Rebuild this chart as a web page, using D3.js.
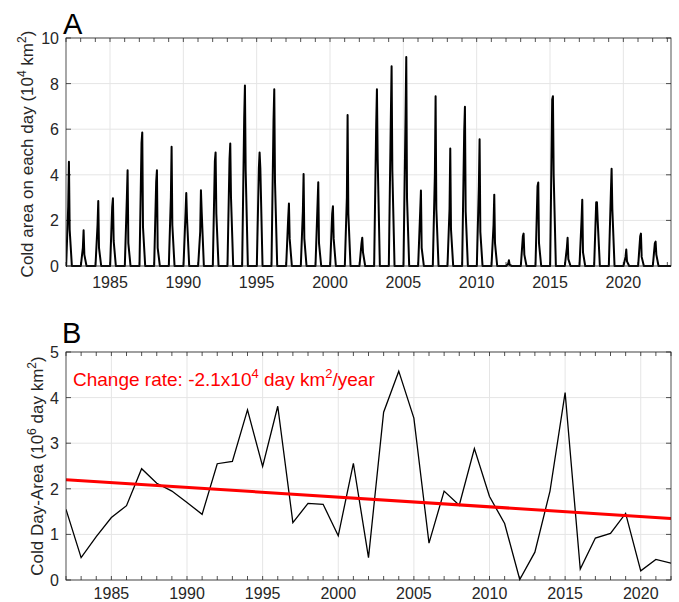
<!DOCTYPE html>
<html><head><meta charset="utf-8">
<script src="https://cdn.jsdelivr.net/npm/d3@7"></script>
<style>
html,body{margin:0;padding:0;background:#fff;}
svg{display:block;font-family:"Liberation Sans",Arial,Helvetica,sans-serif;}
</style></head>
<body>
<svg id="chart" width="679" height="602"></svg>
<script>
// ---------- Panel A data: one cold-season spike per winter ----------
const winterYears = [1982,1983,1984,1985,1986,1987,1988,1989,1990,1991,1992,1993,1994,1995,1996,1997,1998,1999,2000,2001,2002,2003,2004,2005,2006,2007,2008,2009,2010,2011,2012,2013,2014,2015,2016,2017,2018,2019,2020,2021,2022];
const winterPeaks = [4.57,1.57,2.85,2.97,4.2,5.86,4.2,5.23,3.2,3.32,4.98,5.37,7.92,4.98,7.75,2.74,4.04,3.67,2.62,6.62,1.24,7.75,8.76,9.17,3.31,7.45,5.15,6.98,5.56,3.13,0.25,1.42,3.66,7.45,1.24,2.91,2.8,4.26,0.72,1.42,1.07];
const winterRise = [2.6,0.8,1.8,2.6,3.0,5.4,3.7,3.0,2.3,1.5,4.6,4.7,6.5,4.3,6.4,2.1,2.4,2.7,2.3,3.0,1.0,6.2,6.6,6.5,2.4,4.0,2.5,5.9,3.5,1.8,0.1,1.3,3.5,7.3,0.8,2.0,2.8,3.2,0.4,1.3,1.0];
const winterFall = [1.6,0.5,0.8,1.1,1.0,1.7,0.8,1.8,2.1,2.4,2.3,3.0,4.2,4.3,3.7,1.2,1.2,1.0,1.2,2.3,0.6,4.7,4.2,3.0,0.8,2.5,1.6,2.4,1.5,1.0,0.05,0.5,1.0,4.0,0.3,0.6,2.0,2.5,0.2,0.4,0.5];
// time offsets (fraction of year) of the spike vertices: start, rise, peak, fall, end
const spikeOffsets = [0.01, 0.15, 0.20, 0.25, 0.40];
const xTicksA = [1985,1990,1995,2000,2005,2010,2015,2020];
const yTicksA = [0,2,4,6,8,10];

// ---------- Panel B data ----------
const years = [1982,1983,1984,1985,1986,1987,1988,1989,1990,1991,1992,1993,1994,1995,1996,1997,1998,1999,2000,2001,2002,2003,2004,2005,2006,2007,2008,2009,2010,2011,2012,2013,2014,2015,2016,2017,2018,2019,2020,2021,2022];
const dayArea = [1.55,0.49,0.95,1.37,1.63,2.44,2.12,1.95,1.70,1.44,2.55,2.60,3.73,2.49,3.81,1.26,1.68,1.66,0.97,2.56,0.49,3.68,4.58,3.55,0.81,1.95,1.64,2.88,1.83,1.24,0.01,0.61,1.95,4.11,0.24,0.92,1.02,1.46,0.20,0.45,0.37];
const trendYears = [1982, 2022];
const trendValues = [2.20, 1.35];
const xTicksB = [1985,1990,1995,2000,2005,2010,2015,2020];
const yTicksB = [0,1,2,3,4,5];

const svg = d3.select("#chart");
const axisColor = "#262626";
const gridColor = "#e5e5e5";
const fontSize = 16;

function panel(cfg){
  const g = svg.append("g");
  const x = d3.scaleLinear().domain(cfg.xDomain).range([cfg.left, cfg.right]);
  const y = d3.scaleLinear().domain(cfg.yDomain).range([cfg.bottom, cfg.top]);
  g.append("g").selectAll("line").data(cfg.xTicks).join("line")
    .attr("x1", d=>x(d)).attr("x2", d=>x(d)).attr("y1", cfg.top).attr("y2", cfg.bottom)
    .attr("stroke", gridColor).attr("stroke-width", 1);
  g.append("g").selectAll("line").data(cfg.yTicks).join("line")
    .attr("x1", cfg.left).attr("x2", cfg.right).attr("y1", d=>y(d)).attr("y2", d=>y(d))
    .attr("stroke", gridColor).attr("stroke-width", 1);
  const yearTicks = d3.range(Math.ceil(cfg.xDomain[0]), Math.floor(cfg.xDomain[1]) + 1);
  const tk = g.append("g").attr("stroke", axisColor).attr("stroke-width", 0.8);
  tk.append("g").selectAll("line").data(yearTicks).join("line")
    .attr("x1", d=>x(d)).attr("x2", d=>x(d)).attr("y1", cfg.bottom).attr("y2", cfg.bottom-4);
  tk.append("g").selectAll("line").data(yearTicks).join("line")
    .attr("x1", d=>x(d)).attr("x2", d=>x(d)).attr("y1", cfg.top).attr("y2", cfg.top+4);
  tk.append("g").selectAll("line").data(cfg.yTicks).join("line")
    .attr("x1", cfg.left).attr("x2", cfg.left+5).attr("y1", d=>y(d)).attr("y2", d=>y(d));
  tk.append("g").selectAll("line").data(cfg.yTicks).join("line")
    .attr("x1", cfg.right).attr("x2", cfg.right-5).attr("y1", d=>y(d)).attr("y2", d=>y(d));
  g.append("g").selectAll("text").data(cfg.xTicks).join("text")
    .attr("x", d=>x(d)).attr("y", cfg.bottom + cfg.xLabelGap).attr("text-anchor","middle")
    .attr("font-size", fontSize).attr("fill", axisColor).text(d=>d);
  g.append("g").selectAll("text").data(cfg.yTicks).join("text")
    .attr("x", cfg.left - 7).attr("y", d=>y(d)+6).attr("text-anchor","end")
    .attr("font-size", fontSize).attr("fill", axisColor).text(d=>d);
  const cid = "clip" + cfg.id;
  svg.append("clipPath").attr("id", cid).append("rect")
    .attr("x", cfg.left).attr("y", cfg.top-2).attr("width", cfg.right-cfg.left).attr("height", cfg.bottom-cfg.top+4);
  const plot = g.append("g").attr("clip-path", `url(#${cid})`);
  return {g, x, y, plot};
}

// ---------- Panel A ----------
const A = panel({id:"A", left:66, right:671, top:38, bottom:266, xLabelGap:22,
  xDomain:[1982, 2023.25], yDomain:[0,10], xTicks:xTicksA, yTicks:yTicksA});
const seriesA = [[1982, 0]];
winterYears.forEach((yr, i) => {
  const vals = [0, winterRise[i], winterPeaks[i], winterFall[i], 0];
  spikeOffsets.forEach((o, k) => seriesA.push([yr + o, vals[k]]));
});
seriesA.push([2023.25, 0]);
A.plot.append("path").datum(seriesA)
  .attr("d", d3.line().x(d=>A.x(d[0])).y(d=>A.y(d[1])))
  .attr("fill","none").attr("stroke","#000").attr("stroke-width",2).attr("stroke-linejoin","round");
A.g.append("rect").attr("x",66).attr("y",38).attr("width",605).attr("height",228)
  .attr("fill","none").attr("stroke",axisColor).attr("stroke-width",0.8);
svg.append("text").attr("x",63).attr("y",34).attr("font-size",29).attr("fill","#000").text("A");
const la = svg.append("text").attr("transform","translate(33,154) rotate(-90)")
  .attr("text-anchor","middle").attr("font-size",17).attr("fill",axisColor);
la.append("tspan").text("Cold area on each day (10");
la.append("tspan").attr("dy",-7).attr("font-size",12).text("4");
la.append("tspan").attr("dy",7).text(" km");
la.append("tspan").attr("dy",-7).attr("font-size",12).text("2");
la.append("tspan").attr("dy",7).text(")");

// ---------- Panel B ----------
const B = panel({id:"B", left:66, right:671, top:352, bottom:580, xLabelGap:19,
  xDomain:[1982, 2022], yDomain:[0,5], xTicks:xTicksB, yTicks:yTicksB});
B.plot.append("path").datum(years.map((yr,i)=>[yr, dayArea[i]]))
  .attr("d", d3.line().x(d=>B.x(d[0])).y(d=>B.y(d[1])))
  .attr("fill","none").attr("stroke","#000").attr("stroke-width",1.3);
B.plot.append("path").datum(trendYears.map((yr,i)=>[yr, trendValues[i]]))
  .attr("d", d3.line().x(d=>B.x(d[0])).y(d=>B.y(d[1])))
  .attr("fill","none").attr("stroke","#ff0000").attr("stroke-width",3);
B.g.append("rect").attr("x",66).attr("y",352).attr("width",605).attr("height",228)
  .attr("fill","none").attr("stroke",axisColor).attr("stroke-width",0.8);
svg.append("text").attr("x",62).attr("y",343).attr("font-size",29).attr("fill","#000").text("B");
const lb = svg.append("text").attr("transform","translate(43,466) rotate(-90)")
  .attr("text-anchor","middle").attr("font-size",17).attr("fill",axisColor);
lb.append("tspan").text("Cold Day-Area (10");
lb.append("tspan").attr("dy",-7).attr("font-size",12).text("6");
lb.append("tspan").attr("dy",7).text(" day km");
lb.append("tspan").attr("dy",-7).attr("font-size",12).text("2");
lb.append("tspan").attr("dy",7).text(")");
const rt = svg.append("text").attr("x",73).attr("y",386).attr("font-size",19).attr("fill","#ff0000");
rt.append("tspan").text("Change rate: -2.1x10");
rt.append("tspan").attr("dy",-8).attr("font-size",13).text("4");
rt.append("tspan").attr("dy",8).text(" day km");
rt.append("tspan").attr("dy",-8).attr("font-size",13).text("2");
rt.append("tspan").attr("dy",8).text("/year");
</script>
</body></html>
